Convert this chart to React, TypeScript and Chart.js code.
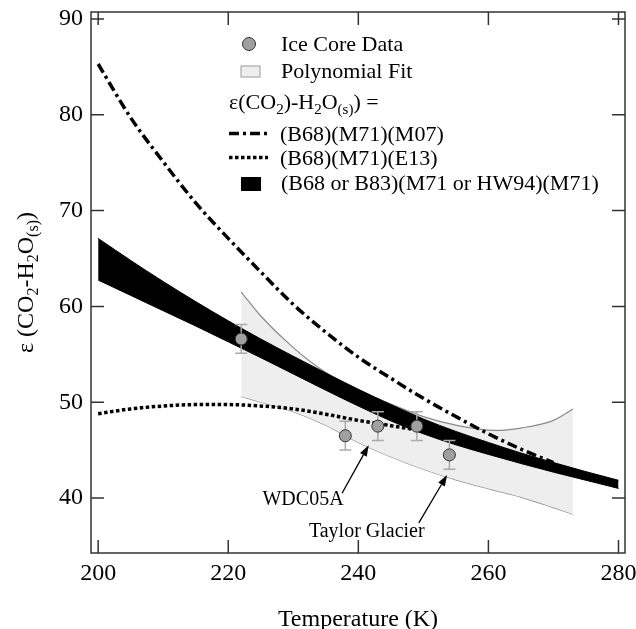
import React, { useEffect, useRef } from "react";
import { Chart, registerables } from "chart.js";

Chart.register(...registerables);

// ---------- data ----------
const xTicks = [200, 220, 240, 260, 280];
const yTicks = [40, 50, 60, 70, 80, 90];

const iceT = [222, 238, 243, 249, 254];
const iceEps = [56.6, 46.5, 47.5, 47.5, 44.5];
const iceErr = [1.5, 1.5, 1.5, 1.5, 1.5];

const polyT = [222, 225, 230, 235, 240, 245, 250, 255, 261, 265, 270, 273];
const polyUpper = [61.5, 59.0, 55.7, 53.1, 51.3, 49.8, 48.5, 47.6, 47.05, 47.3, 48.1, 49.3];
const polyLower = [50.6, 50.0, 49.0, 47.6, 45.8, 44.3, 43.0, 41.9, 40.8, 40.1, 39.0, 38.3];

const bandT = [200, 205, 210, 215, 220, 225, 230, 235, 240, 245, 250, 255, 260, 265, 270, 275, 280];
const bandUpper = [67.1, 64.8, 62.6, 60.5, 58.5, 56.6, 54.8, 53.05, 51.35, 49.75, 48.25, 46.95, 45.8, 44.7, 43.7, 42.75, 41.85];
const bandLower = [62.75, 61.15, 59.55, 57.95, 56.3, 54.65, 52.95, 51.25, 49.6, 48.05, 46.7, 45.55, 44.55, 43.6, 42.7, 41.85, 41.0];

const m07T = [200, 205, 210, 215, 220, 225, 230, 235, 240, 245, 250, 255, 260, 265, 270];
const m07 = [85.3, 79.7, 75.1, 70.8, 67.1, 63.6, 60.2, 57.3, 54.7, 52.5, 50.4, 48.5, 46.7, 45.1, 43.7];

const e13T = [200, 205, 210, 215, 220, 225, 230, 235, 240, 245, 250, 255];
const e13 = [48.8, 49.3, 49.6, 49.75, 49.75, 49.6, 49.3, 48.75, 48.1, 47.55, 46.95, 45.9];

// annotations (data coordinates)
const annotations = [
  { label: "WDC05A", textX: 231.5, textY: 39.27, fromX: 237.5, fromY: 40.5, toX: 241.6, toY: 45.5 },
  { label: "Taylor Glacier", textX: 241.3, textY: 35.93, fromX: 249.3, fromY: 37.4, toX: 253.65, toY: 42.4 },
];

const FONT = '"Liberation Serif", "Times New Roman", serif';

const pts = (xs: number[], ys: number[]) => xs.map((x, i) => ({ x, y: ys[i] }));

type Piece = { t: string; sub?: boolean };

function drawRich(ctx: CanvasRenderingContext2D, pieces: Piece[], x: number, y: number, size: number, subSize: number, subOff: number, center: boolean) {
  const widths = pieces.map((p) => {
    ctx.font = `${p.sub ? subSize : size}px ${FONT}`;
    return ctx.measureText(p.t).width;
  });
  const total = widths.reduce((a, b) => a + b, 0);
  let cx = center ? x - total / 2 : x;
  ctx.textAlign = "left";
  ctx.textBaseline = "alphabetic";
  pieces.forEach((p, i) => {
    ctx.font = `${p.sub ? subSize : size}px ${FONT}`;
    ctx.fillText(p.t, cx, y + (p.sub ? subOff : 0));
    cx += widths[i];
  });
}

const errorBarPlugin = {
  id: "errorBars",
  beforeDatasetDraw(chart: any, args: any) {
    if (args.index !== 0) return;
    const { ctx, scales } = chart;
    const x = scales.x, y = scales.y;
    ctx.save();
    ctx.strokeStyle = "#aaaaaa";
    ctx.lineWidth = 1.5;
    iceT.forEach((t, i) => {
      const px = x.getPixelForValue(t);
      const top = y.getPixelForValue(iceEps[i] + iceErr[i]);
      const bot = y.getPixelForValue(iceEps[i] - iceErr[i]);
      ctx.beginPath();
      ctx.moveTo(px, top); ctx.lineTo(px, bot);
      ctx.moveTo(px - 6, top); ctx.lineTo(px + 6, top);
      ctx.moveTo(px - 6, bot); ctx.lineTo(px + 6, bot);
      ctx.stroke();
    });
    ctx.restore();
  },
};

const framePlugin = {
  id: "frame",
  afterDatasetsDraw(chart: any) {
    const { ctx, chartArea: a, scales } = chart;
    const x = scales.x, y = scales.y;
    ctx.save();
    ctx.strokeStyle = "#333333";
    ctx.lineWidth = 1.5;
    ctx.strokeRect(a.left, a.top, a.right - a.left, a.bottom - a.top);
    ctx.beginPath();
    xTicks.forEach((v) => {
      const px = x.getPixelForValue(v);
      ctx.moveTo(px, a.bottom); ctx.lineTo(px, a.bottom - 13);
      ctx.moveTo(px, a.top); ctx.lineTo(px, a.top + 13);
    });
    yTicks.forEach((v) => {
      const py = y.getPixelForValue(v);
      ctx.moveTo(a.left, py); ctx.lineTo(a.left + 13, py);
      ctx.moveTo(a.right, py); ctx.lineTo(a.right - 13, py);
    });
    ctx.stroke();
    ctx.restore();
  },
};

const textPlugin = {
  id: "texts",
  afterDraw(chart: any) {
    const { ctx, chartArea: a, scales } = chart;
    const x = scales.x, y = scales.y;
    ctx.save();
    ctx.fillStyle = "#000";

    // annotations
    annotations.forEach((an) => {
      ctx.font = `20px ${FONT}`;
      ctx.textAlign = "center";
      ctx.textBaseline = "alphabetic";
      ctx.fillText(an.label, x.getPixelForValue(an.textX), y.getPixelForValue(an.textY));
      const x0 = x.getPixelForValue(an.fromX), y0 = y.getPixelForValue(an.fromY);
      const x1 = x.getPixelForValue(an.toX), y1 = y.getPixelForValue(an.toY);
      const ang = Math.atan2(y1 - y0, x1 - x0);
      const L = 11, W = 3.8;
      const bx = x1 - L * Math.cos(ang), by = y1 - L * Math.sin(ang);
      ctx.strokeStyle = "#000";
      ctx.lineWidth = 1.3;
      ctx.beginPath();
      ctx.moveTo(x0, y0); ctx.lineTo(bx, by);
      ctx.stroke();
      ctx.beginPath();
      ctx.moveTo(x1, y1);
      ctx.lineTo(bx + W * Math.sin(ang), by - W * Math.cos(ang));
      ctx.lineTo(bx - W * Math.sin(ang), by + W * Math.cos(ang));
      ctx.closePath();
      ctx.fill();
    });

    // x title
    ctx.font = `24px ${FONT}`;
    ctx.textAlign = "center";
    ctx.textBaseline = "alphabetic";
    ctx.fillText("Temperature (K)", (a.left + a.right) / 2, 626);

    // y title
    ctx.save();
    ctx.translate(33, (a.top + a.bottom) / 2);
    ctx.rotate(-Math.PI / 2);
    drawRich(ctx, [
      { t: "\u03b5 (CO" }, { t: "2", sub: true }, { t: "-H" }, { t: "2", sub: true },
      { t: "O" }, { t: "(s)", sub: true }, { t: ")" },
    ], 0, 0, 24, 16, 5, true);
    ctx.restore();

    // legend
    const LF = 22;
    ctx.font = `${LF}px ${FONT}`;
    ctx.textAlign = "left";
    ctx.textBaseline = "alphabetic";
    ctx.beginPath();
    ctx.arc(249, 44, 6.5, 0, Math.PI * 2);
    ctx.fillStyle = "#a0a0a0";
    ctx.fill();
    ctx.strokeStyle = "#333";
    ctx.lineWidth = 1;
    ctx.stroke();
    ctx.fillStyle = "#000";
    ctx.fillText("Ice Core Data", 281, 51);
    ctx.fillStyle = "#eeeeee";
    ctx.fillRect(241, 66, 19, 11);
    ctx.strokeStyle = "#999";
    ctx.strokeRect(241, 66, 19, 11);
    ctx.fillStyle = "#000";
    ctx.fillText("Polynomial Fit", 281, 78);
    drawRich(ctx, [
      { t: "\u03b5(CO" }, { t: "2", sub: true }, { t: ")-H" }, { t: "2", sub: true },
      { t: "O" }, { t: "(s)", sub: true }, { t: ") =" },
    ], 229, 109, LF, 15, 5, false);
    ctx.strokeStyle = "#000";
    ctx.lineWidth = 3.5;
    ctx.setLineDash([10, 4, 3, 4]);
    ctx.beginPath(); ctx.moveTo(229, 133.5); ctx.lineTo(268, 133.5); ctx.stroke();
    ctx.setLineDash([3.5, 2.5]);
    ctx.beginPath(); ctx.moveTo(229, 157.5); ctx.lineTo(268, 157.5); ctx.stroke();
    ctx.setLineDash([]);
    ctx.font = `${LF}px ${FONT}`;
    ctx.fillText("(B68)(M71)(M07)", 280, 140.5);
    ctx.fillText("(B68)(M71)(E13)", 280, 165.3);
    ctx.fillRect(241, 177, 20, 14);
    ctx.fillText("(B68 or B83)(M71 or HW94)(M71)", 281, 190);

    ctx.restore();
  },
};

const noPad = (s: any) => {
  s.paddingTop = 0;
  s.paddingBottom = 0;
  s.paddingLeft = 0;
  s.paddingRight = 0;
};

const lineBase = {
  showLine: true,
  pointRadius: 0,
  cubicInterpolationMode: "monotone",
};

export default function App() {
  const ref = useRef<HTMLCanvasElement | null>(null);

  useEffect(() => {
    if (!ref.current) return;
    const tickFont = { family: FONT, size: 24 };
    const chart = new Chart(ref.current, {
      type: "scatter",
      data: {
        datasets: [
          {
            label: "Ice Core Data",
            data: pts(iceT, iceEps),
            pointRadius: 6,
            pointBackgroundColor: "#a0a0a0",
            pointBorderColor: "#333",
            pointBorderWidth: 1,
            showLine: false,
            order: 0,
          },
          {
            ...lineBase,
            label: "(B68)(M71)(E13)",
            data: pts(e13T, e13),
            borderColor: "#000",
            borderWidth: 3.5,
            borderDash: [3.5, 2.5],
            order: 1,
          },
          {
            ...lineBase,
            label: "(B68)(M71)(M07)",
            data: pts(m07T, m07),
            borderColor: "#000",
            borderWidth: 3.5,
            borderDash: [10, 4, 3, 4],
            order: 2,
          },
          {
            ...lineBase,
            label: "band upper",
            data: pts(bandT, bandUpper),
            borderColor: "#000",
            borderWidth: 1,
            backgroundColor: "#000",
            fill: "+1",
            order: 3,
          },
          {
            ...lineBase,
            label: "band lower",
            data: pts(bandT, bandLower),
            borderColor: "#000",
            borderWidth: 1,
            order: 3,
          },
          {
            ...lineBase,
            label: "Polynomial Fit upper",
            data: pts(polyT, polyUpper),
            borderColor: "#8a8a8a",
            borderWidth: 1.2,
            backgroundColor: "#eeeeee",
            fill: "+1",
            order: 4,
          },
          {
            ...lineBase,
            label: "Polynomial Fit lower",
            data: pts(polyT, polyLower),
            borderColor: "#8a8a8a",
            borderWidth: 1.2,
            order: 4,
          },
        ] as any,
      },
      options: {
        animation: false,
        responsive: false,
        layout: { padding: { top: 12, right: 11, left: 0, bottom: 0 } },
        plugins: { legend: { display: false }, tooltip: { enabled: false } },
        scales: {
          x: {
            type: "linear",
            min: 198.9,
            max: 281.0,
            grid: { display: false, drawTicks: false },
            border: { display: false },
            ticks: { font: tickFont, color: "#000", padding: 6, maxRotation: 0, autoSkip: false },
            afterBuildTicks: (s: any) => { s.ticks = xTicks.map((v) => ({ value: v })); },
            afterFit: (s: any) => { s.height = 76; noPad(s); },
          },
          y: {
            type: "linear",
            min: 34.26,
            max: 90.73,
            grid: { display: false, drawTicks: false },
            border: { display: false },
            ticks: { font: tickFont, color: "#000", padding: 8, autoSkip: false },
            afterBuildTicks: (s: any) => { s.ticks = yTicks.map((v) => ({ value: v })); },
            afterFit: (s: any) => { s.width = 91; noPad(s); },
          },
        },
      } as any,
      plugins: [errorBarPlugin, framePlugin, textPlugin],
    });
    return () => chart.destroy();
  }, []);

  return (
    <div style={{ position: "absolute", left: 0, top: 0, width: 636, height: 629, background: "#fff" }}>
      <canvas ref={ref} width={636} height={629} style={{ display: "block" }} />
    </div>
  );
}
